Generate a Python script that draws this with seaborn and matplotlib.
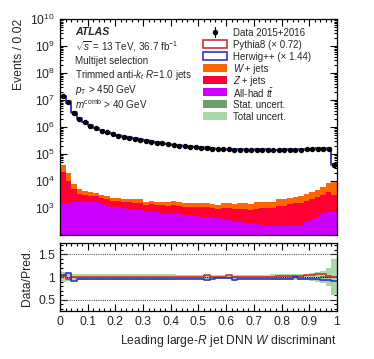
import numpy as np
import pandas as pd
import matplotlib
matplotlib.use("Agg")
import matplotlib.pyplot as plt
import seaborn as sns
from matplotlib.patches import Rectangle
from matplotlib.ticker import FixedLocator, FuncFormatter, MultipleLocator, NullFormatter, LogLocator

# ---------------- data ----------------
bin_width = 0.02
n_bins = 50

data_counts = [1.41e7, 8.5e6, 3.31e6, 2.0e6, 1.51e6, 1.12e6, 8.9e5, 7.4e5, 6.3e5, 5.5e5,
               4.8e5, 4.4e5, 4.0e5, 3.6e5, 3.3e5, 3.1e5, 2.8e5, 2.6e5, 2.45e5, 2.3e5,
               2.15e5, 2.05e5, 1.95e5, 1.86e5, 1.78e5, 1.70e5, 1.66e5, 1.58e5, 1.55e5, 1.48e5,
               1.48e5, 1.45e5, 1.45e5, 1.41e5, 1.41e5, 1.41e5, 1.41e5, 1.41e5, 1.41e5, 1.41e5,
               1.41e5, 1.41e5, 1.45e5, 1.45e5, 1.48e5, 1.51e5, 1.58e5, 1.58e5, 1.48e5, 4.0e4]

wjets = [18000, 9500, 2690, 1620, 1250, 920, 880, 660, 600, 580,
         580, 530, 520, 505, 505, 410, 440, 410, 410, 390,
         490, 470, 430, 410, 450, 360, 360, 445, 400, 550,
         550, 490, 525, 595, 560, 710, 700, 680, 620, 915,
         1010, 1020, 1150, 1295, 1420, 1660, 2050, 2870, 4340, 5890]

zjets = [19500, 8500, 3280, 1690, 1320, 1180, 1130, 880, 800, 700,
         770, 660, 665, 695, 735, 495, 655, 580, 615, 615,
         690, 640, 570, 560, 575, 640, 650, 565, 475, 620,
         655, 645, 655, 680, 580, 660, 775, 800, 780, 960,
         1020, 1170, 1255, 1345, 1520, 1795, 2150, 2405, 3290, 2330]

ttbar = [1380, 1480, 1620, 1700, 1700, 1700, 1620, 1410, 1290, 1120,
         1050, 1000, 955, 890, 850, 795, 725, 710, 675, 615,
         600, 590, 550, 537, 525, 480, 470, 435, 415, 380,
         345, 310, 300, 275, 270, 250, 225, 220, 220, 215,
         210, 210, 225, 240, 300, 345, 480, 615, 690, 690]

# Data / prediction ratios
ratio_pythia = [1.03, 0.96, 0.99, 0.99, 0.99, 1.00, 1.00, 0.99, 1.00, 1.00,
                1.00, 1.00, 1.00, 1.01, 1.00, 1.00, 1.00, 1.00, 1.01, 1.00,
                1.01, 1.01, 1.00, 1.01, 1.01, 1.01, 1.04, 1.01, 1.01, 1.01,
                1.035, 1.00, 1.00, 1.00, 1.00, 1.01, 1.01, 1.01, 1.01, 1.02,
                1.02, 1.02, 1.02, 1.02, 1.05, 1.05, 1.06, 1.06, 1.03, 1.01]

ratio_herwig = [1.04, 1.08, 0.92, 0.96, 0.96, 0.955, 0.955, 0.955, 0.95, 0.955,
                0.955, 0.95, 0.96, 0.95, 0.955, 0.955, 0.96, 0.95, 0.955, 0.95,
                0.96, 0.955, 0.95, 0.96, 0.955, 0.96, 0.925, 0.955, 0.975, 0.975,
                0.975, 0.94, 0.965, 0.945, 0.965, 0.955, 0.955, 0.955, 0.965, 0.965,
                0.955, 0.96, 0.995, 0.955, 0.95, 0.945, 0.945, 0.94, 0.925, 0.915]

total_unc = [0.10, 0.08, 0.07, 0.06, 0.06, 0.06, 0.06, 0.06, 0.06, 0.06,
             0.06, 0.06, 0.06, 0.06, 0.06, 0.06, 0.06, 0.06, 0.06, 0.06,
             0.06, 0.05, 0.05, 0.05, 0.05, 0.05, 0.05, 0.05, 0.05, 0.05,
             0.05, 0.05, 0.05, 0.05, 0.05, 0.05, 0.05, 0.05, 0.06, 0.06,
             0.06, 0.06, 0.06, 0.06, 0.07, 0.08, 0.10, 0.13, 0.19, 0.39]

stat_unc = [0.01] * 47 + [0.015, 0.02, 0.03]

ref_lines = [0.5, 1.0, 1.5]

# legend labels: (italic part, plain part) ; None italic part = plain text only
legend_labels = [(None, "Data 2015+2016"), (None, "Pythia8 (\u00d7 0.72)"),
                 (None, "Herwig++ (\u00d7 1.44)"), ("W", " + jets"), ("Z", " + jets"),
                 (None, r"All-had $t\bar{t}$"), (None, "Stat. uncert."),
                 (None, "Total uncert.")]

# ---------------- style ----------------
sns.set_theme(style="ticks")
plt.rcParams["font.family"] = ["Liberation Sans", "DejaVu Sans"]
plt.rcParams["mathtext.fontset"] = "custom"
plt.rcParams["mathtext.rm"] = "Liberation Sans"
plt.rcParams["mathtext.it"] = "Liberation Sans:italic"
plt.rcParams["mathtext.bf"] = "Liberation Sans:bold"

c_w = "#FF6600"
c_z = "#FF0033"
c_tt = "#CC00FF"
c_py = "#CC3333"
c_hw = "#3333CC"
c_stat = "#6E9E6E"
c_tot = "#A8D8A8"

edges = np.arange(n_bins + 1) * bin_width
centers = (np.arange(n_bins) + 0.5) * bin_width
data_arr = np.array(data_counts)
pythia = data_arr / np.array(ratio_pythia)
herwig = data_arr / np.array(ratio_herwig)
hist_kw = dict(binwidth=bin_width, binrange=(0, 1))

fig = plt.figure(figsize=(3.74, 3.59), dpi=100)
ax = fig.add_axes([0.1604, 0.3454, 0.7406, 0.6017])
axr = fig.add_axes([0.1604, 0.1337, 0.7406, 0.1894], sharex=ax)

# stacked backgrounds
procs = ["W", "Z", "tt"]
df_stack = pd.DataFrame({
    "x": np.tile(centers, 3),
    "w": np.concatenate([wjets, zjets, ttbar]).astype(float),
    "proc": np.repeat(procs, n_bins),
})
sns.histplot(data=df_stack, x="x", weights="w", hue="proc", hue_order=procs,
             multiple="stack", element="step", fill=True, alpha=1,
             linewidth=0, palette={"W": c_w, "Z": c_z, "tt": c_tt}, ax=ax, legend=False,
             **hist_kw)

df_mc = pd.DataFrame({"x": centers, "py": pythia, "hw": herwig,
                      "rpy": ratio_pythia, "rhw": ratio_herwig})
sns.histplot(data=df_mc, x="x", weights="py", element="step", fill=False,
             color=c_py, linewidth=1.2, ax=ax, **hist_kw)
sns.histplot(data=df_mc, x="x", weights="hw", element="step", fill=False,
             color=c_hw, linewidth=1.2, ax=ax, **hist_kw)
ax.errorbar(centers, data_arr, yerr=np.sqrt(data_arr), fmt="o", ms=2.9,
            color="black", elinewidth=0.8, capsize=0, zorder=5)

ax.set_yscale("log")
ax.set_ylim(1e2, 1e10)
ax.set_xlim(0, 1)
ax.yaxis.set_major_locator(FixedLocator([10.0 ** k for k in range(2, 11)]))
ax.yaxis.set_major_formatter(FuncFormatter(
    lambda v, p: "" if v < 5e2 else r"$10^{%d}$" % round(np.log10(v))))
ax.yaxis.set_minor_locator(LogLocator(base=10, subs=np.arange(2, 10), numticks=20))
ax.yaxis.set_minor_formatter(NullFormatter())
ax.set_ylabel("Events / 0.02", loc="top", fontsize=8.7)
ax.set_xlabel("")

# ratio panel
axr.stairs(1 + np.array(total_unc), edges, baseline=1 - np.array(total_unc),
           fill=True, color=c_tot, linewidth=0)
axr.stairs(1 + np.array(stat_unc), edges, baseline=1 - np.array(stat_unc),
           fill=True, color=c_stat, linewidth=0)
for lv in ref_lines:
    axr.axhline(lv, color="#555555" if lv != 1.0 else "black", ls=(0, (1, 1)), lw=0.8)
sns.histplot(data=df_mc, x="x", weights="rpy", element="step", fill=False,
             color=c_py, linewidth=1.2, ax=axr, **hist_kw)
sns.histplot(data=df_mc, x="x", weights="rhw", element="step", fill=False,
             color=c_hw, linewidth=1.2, ax=axr, **hist_kw)
axr.set_ylim(0.25, 1.75)
axr.set_xlim(0, 1)
axr.yaxis.set_major_locator(FixedLocator([0.5, 1.0, 1.5]))
axr.yaxis.set_minor_locator(MultipleLocator(0.1))
axr.yaxis.set_major_formatter(FuncFormatter(lambda v, p: "%g" % v))
axr.xaxis.set_major_locator(MultipleLocator(0.1))
axr.xaxis.set_minor_locator(MultipleLocator(0.02))
axr.xaxis.set_major_formatter(FuncFormatter(lambda v, p: "%g" % round(v, 2)))
axr.set_ylabel("Data/Pred.", fontsize=8.7)
axr.set_xlabel(r"Leading large-$R$ jet DNN $W$ discriminant", loc="right", fontsize=8.7)
fig.align_ylabels([ax, axr])

for a in (ax, axr):
    a.tick_params(which="both", direction="in", top=True, right=True, labelsize=8.7,
                  width=0.8, color="black")
    a.tick_params(which="major", length=5)
    a.tick_params(which="minor", length=2.5)
    for s in a.spines.values():
        s.set_linewidth(0.9)
        s.set_color("black")
ax.tick_params(labelbottom=False)

# labels
tx = 0.054
ax.text(tx, 0.94, "ATLAS", transform=ax.transAxes, fontsize=7.6, fontweight="bold",
        style="italic", va="center")
ax.text(tx, 0.870, r"$\sqrt{s}$ = 13 TeV, 36.7 fb$^{-1}$", transform=ax.transAxes,
        fontsize=7.1, va="center")
ax.text(tx, 0.806, "Multijet selection", transform=ax.transAxes, fontsize=7.1, va="center")
ax.text(tx, 0.741, r"Trimmed anti-$k_{t}$ $R$=1.0 jets", transform=ax.transAxes,
        fontsize=7.1, va="center")
ax.text(tx, 0.671, r"$p_{\rm T}$ > 450 GeV", transform=ax.transAxes, fontsize=7.1, va="center")
ax.text(tx, 0.606, r"$m^{\rm comb}$ > 40 GeV", transform=ax.transAxes, fontsize=7.1, va="center")

# legend (drawn row by row for even spacing)
leg_styles = [None,
              dict(facecolor="white", edgecolor=c_py, linewidth=1.2),
              dict(facecolor="white", edgecolor=c_hw, linewidth=1.2),
              dict(facecolor=c_w, edgecolor="none"),
              dict(facecolor=c_z, edgecolor="none"),
              dict(facecolor=c_tt, edgecolor="none"),
              dict(facecolor=c_stat, edgecolor="none"),
              dict(facecolor=c_tot, edgecolor="none")]
lx0, lx1, ltx = 0.516, 0.603, 0.625
ly0, ldy, lh = 0.940, 0.0556, 0.036
for i, ((ital, plain), st) in enumerate(zip(legend_labels, leg_styles)):
    yc = ly0 - i * ldy
    if st is None:
        xm = 0.5 * (lx0 + lx1)
        ax.plot([xm, xm], [yc - 0.022, yc + 0.022], color="black", lw=0.8,
                transform=ax.transAxes, clip_on=False)
        ax.plot([xm], [yc], "o", color="black", ms=2.9, transform=ax.transAxes, clip_on=False)
    else:
        ax.add_patch(Rectangle((lx0, yc - lh / 2), lx1 - lx0, lh, transform=ax.transAxes,
                               clip_on=False, **st))
    if ital is None:
        ax.text(ltx, yc, plain, transform=ax.transAxes, fontsize=7.0, va="center_baseline")
    else:
        t_it = ax.text(ltx, yc, ital, transform=ax.transAxes, fontsize=7.0, style="italic",
                       va="center_baseline")
        ax.annotate(plain, xy=(1, 0), xycoords=t_it, ha="left", va="bottom", fontsize=7.0)

fig.savefig("out.png", dpi=100)
